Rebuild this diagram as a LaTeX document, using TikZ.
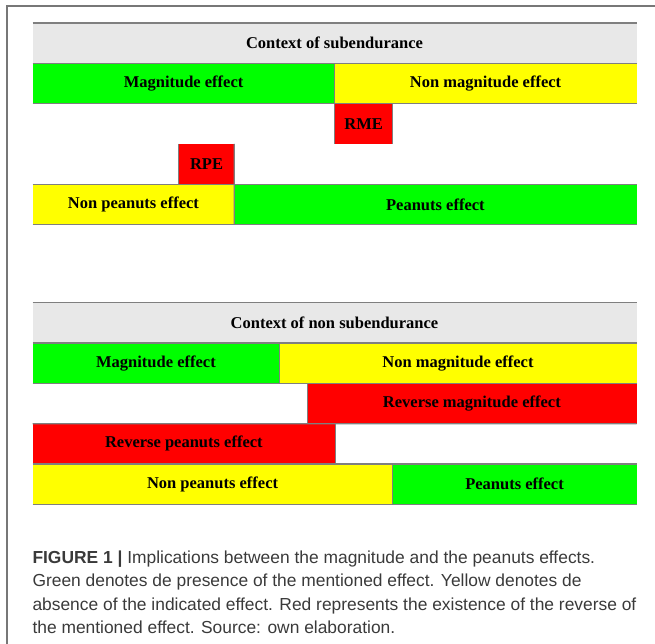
\documentclass[tikz,border=0pt]{standalone}
\usepackage{fontspec}
\setmainfont{Liberation Serif}
\newfontfamily\capfont{Liberation Sans}
\usepackage{tikz}
\definecolor{cgreen}{HTML}{00FF00}
\definecolor{cyellow}{HTML}{FFFF00}
\definecolor{cred}{HTML}{FF0000}
\definecolor{cgrey}{HTML}{E8E8E8}
\definecolor{rulegrey}{HTML}{7F7F7F}
\definecolor{framegrey}{HTML}{777777}
\definecolor{captext}{HTML}{3A3A3A}
\tikzset{
  cell/.style={minimum height=40.3pt, inner sep=0pt, outer sep=0pt, font=\fontsize{16.5}{18}\selectfont\bfseries},
  rule/.style={draw=rulegrey, line width=1.3pt},
  captionline/.style={anchor=base west, inner sep=0pt, outer sep=0pt, text=captext, font=\capfont\fontsize{17.4}{20}\selectfont}
}

\begin{document}
\begin{tikzpicture}[x=1pt, y=-1pt]
            \useasboundingbox (0,0) rectangle (655,644);
            \draw[framegrey, line width=1.2pt] (7,644) -- (7,6) -- (655,6);

            \node[cell, fill=cgrey, minimum width=604pt] (hdrA) at (334.5,43.15) {Context of subendurance};
            \node[cell, fill=cgreen, minimum width=302.1pt] (magA) at (183.55,83.5) {Magnitude effect};
            \node[cell, fill=cyellow, minimum width=301.9pt] (nmagA) at (485.55,83.5) {Non magnitude effect};
            \node[cell, fill=cred, minimum width=58pt] (rmeA) at (363.6,123.85) {RME};
            \node[cell, fill=cred, minimum width=55.5pt] (rpeA) at (206.55,164.15) {RPE};
            \node[cell, fill=cyellow, minimum width=201.8pt] (npA) at (133.4,204.45) {Non peanuts effect};
            \node[cell, fill=cgreen, minimum width=402.2pt] (pA) at (435.4,204.45) {Peanuts effect};

            \draw[rule] (hdrA.north west) -- (hdrA.north east);
            \draw[rule] (hdrA.south west) -- (hdrA.south east);
            \draw[rule] (magA.south west) -- (nmagA.south east);
            \draw[rule] (npA.north west) -- (pA.north east);
            \draw[rule] (npA.south west) -- (pA.south east);
            \draw[rule] (magA.north east) -- (rmeA.south west);
            \draw[rule] (rmeA.north east) -- (rmeA.south east);
            \draw[rule] (rpeA.north west) -- (rpeA.south west);
            \draw[rule] (rpeA.north east) -- (npA.south east);

            \node[cell, fill=cgrey, minimum width=604pt] (hdrB) at (334.5,322.85) {Context of non subendurance};
            \node[cell, fill=cgreen, minimum width=246.9pt] (magB) at (155.95,363.15) {Magnitude effect};
            \node[cell, fill=cyellow, minimum width=357.1pt] (nmagB) at (457.95,363.15) {Non magnitude effect};
            \node[cell, fill=cred, minimum width=329.3pt] (rmeB) at (471.85,403.5) {Reverse magnitude effect};
            \node[cell, fill=cred, minimum width=302.7pt] (rpeB) at (183.85,443.85) {Reverse peanuts effect};
            \node[cell, fill=cyellow, minimum width=360.1pt] (npB) at (212.55,484.15) {Non peanuts effect};
            \node[cell, fill=cgreen, minimum width=243.9pt] (pB) at (514.55,484.15) {Peanuts effect};

            \draw[rule] (hdrB.north west) -- (hdrB.north east);
            \draw[rule] (hdrB.south west) -- (hdrB.south east);
            \draw[rule] (magB.south west) -- (nmagB.south east);
            \draw[rule] (rpeB.north west) -- (rmeB.south east);
            \draw[rule] (npB.north west) -- (pB.north east);
            \draw[rule] (npB.south west) -- (pB.south east);
            \draw[rule] (magB.north east) -- (magB.south east);
            \draw[rule] (rmeB.north west) -- (rmeB.south west);
            \draw[rule] (rpeB.north east) -- (rpeB.south east);
            \draw[rule] (npB.north east) -- (npB.south east);

            \node[captionline] (cap1) at (32.5,563) {\textbf{FIGURE 1 |} Implications between the magnitude and the peanuts effects.};
            \node[captionline] (cap2) at (32.5,586.5) {Green denotes de presence of the mentioned effect. Yellow denotes de};
            \node[captionline] (cap3) at (32.5,610) {absence of the indicated effect. Red represents the existence of the reverse of};
            \node[captionline] (cap4) at (32.5,633) {the mentioned effect. Source: own elaboration.};
        \end{tikzpicture}
\end{document}
